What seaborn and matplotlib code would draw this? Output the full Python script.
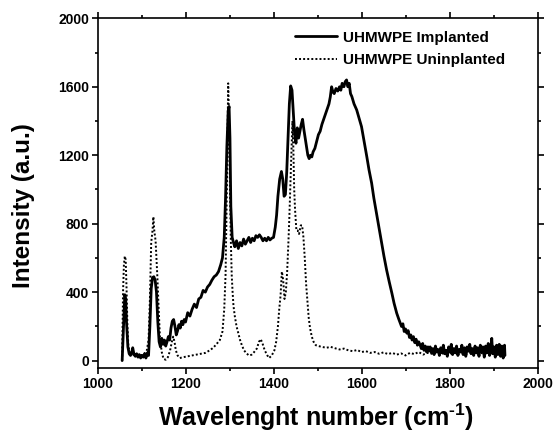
import matplotlib
matplotlib.use("Agg")
import matplotlib.pyplot as plt
from matplotlib.ticker import MultipleLocator
import pandas as pd
import seaborn as sns

# Raman spectrum of the implanted sample
impl_wn = [1056, 1059, 1062, 1064, 1066, 1069, 1072, 1075, 1078, 1080, 1083, 1086, 1089, 1092,
           1095, 1098, 1101, 1104, 1107, 1110, 1113, 1116, 1119, 1122, 1125, 1128, 1131, 1134,
           1137, 1140, 1143, 1146, 1149, 1152, 1155, 1158, 1161, 1164, 1167, 1170, 1173, 1176,
           1179, 1182, 1185, 1188, 1191, 1194, 1197, 1200, 1205, 1210, 1215, 1220, 1225, 1230,
           1235, 1240, 1245, 1250, 1255, 1260, 1265, 1270, 1275, 1280, 1284, 1288, 1291, 1294,
           1297, 1299, 1301, 1303, 1306, 1309, 1312, 1316, 1320, 1324, 1328, 1332, 1336, 1340,
           1344, 1348, 1352, 1356, 1360, 1364, 1368, 1372, 1376, 1380, 1384, 1388, 1392, 1396,
           1400, 1404, 1407, 1410, 1414, 1418, 1421, 1424, 1427, 1430, 1433, 1436, 1439, 1442,
           1445, 1448, 1451, 1454, 1457, 1460, 1463, 1466, 1469, 1472, 1475, 1478, 1481, 1484,
           1487, 1490, 1494, 1498, 1502, 1506, 1510, 1514, 1518, 1522, 1526, 1529, 1532, 1535,
           1538, 1542, 1546, 1550, 1553, 1556, 1560, 1563, 1566, 1569, 1572, 1575, 1578, 1583,
           1589, 1594, 1600, 1606, 1612, 1617, 1623, 1628, 1634, 1640, 1646, 1651, 1657, 1663,
           1669, 1674, 1680, 1685, 1691, 1694, 1697, 1700, 1703, 1706, 1709, 1712, 1715, 1718,
           1721, 1724, 1727, 1730, 1733, 1736, 1739, 1742, 1745, 1748, 1751, 1753, 1756, 1759,
           1762, 1765, 1768, 1771, 1774, 1777, 1780, 1783, 1786, 1789, 1792, 1795, 1798, 1801,
           1804, 1807, 1810, 1813, 1816, 1819, 1822, 1825, 1828, 1831, 1834, 1837, 1840, 1843,
           1846, 1849, 1852, 1855, 1858, 1861, 1864, 1867, 1870, 1873, 1876, 1879, 1882, 1885,
           1888, 1891, 1894, 1896, 1898, 1901, 1904, 1907, 1910, 1913, 1916, 1919, 1922, 1925,
           1926]
impl_int = [0, 200, 385, 360, 220, 80, 40, 30, 50, 75, 35, 25, 40, 20,
            35, 15, 30, 20, 40, 15, 45, 30, 200, 420, 485, 490, 470, 400,
            230, 110, 80, 130, 95, 120, 85, 110, 140, 120, 190, 230, 240, 200,
            150, 175, 210, 190, 230, 210, 240, 225, 280, 260, 300, 330, 310, 360,
            370, 410, 400, 430, 445, 470, 490, 500, 520, 560, 600, 720, 950, 1250,
            1460, 1485, 1300, 900, 720, 690, 665, 700, 655, 690, 670, 710, 680, 700,
            720, 690, 715, 700, 730, 720, 735, 720, 700, 715, 700, 720, 705, 715,
            720, 780, 850, 960, 1060, 1105, 1060, 960, 970, 1100, 1300, 1500, 1605, 1580,
            1450, 1320, 1270, 1360, 1300, 1340, 1380, 1410, 1350, 1300, 1250, 1200, 1180, 1200,
            1190, 1220, 1240, 1280, 1320, 1340, 1380, 1410, 1440, 1470, 1500, 1540, 1600, 1570,
            1560, 1590, 1575, 1600, 1580, 1620, 1600, 1630, 1640, 1600, 1620, 1560, 1543, 1500,
            1465, 1420, 1367, 1280, 1192, 1115, 1037, 950, 862, 775, 686, 610, 530, 460,
            394, 335, 277, 240, 199, 215, 170, 185, 160, 175, 135, 150, 120, 140,
            105, 125, 90, 110, 92, 70, 100, 60, 85, 50, 80, 55, 80, 45,
            70, 35, 85, 50, 65, 30, 75, 45, 90, 40, 60, 25, 80, 50,
            95, 35, 70, 45, 85, 30, 65, 50, 90, 35, 75, 25, 80, 55,
            95, 40, 70, 30, 85, 45, 75, 25, 90, 50, 80, 20, 85, 45,
            100, 30, 70, 130, 40, 80, 20, 90, 35, 95, 25, 85, 15, 90,
            30]

# Raman spectrum of the reference (non-implanted) sample
unimp_wn = [1056, 1058, 1060, 1062, 1064, 1066, 1068, 1070, 1073, 1078, 1085, 1095, 1105, 1112,
            1116, 1119, 1122, 1125, 1127, 1129, 1132, 1134, 1136, 1139, 1142, 1146, 1150, 1155,
            1160, 1165, 1169, 1172, 1175, 1178, 1182, 1187, 1195, 1205, 1215, 1225, 1235, 1245,
            1255, 1263, 1270, 1278, 1284, 1288, 1291, 1294, 1297, 1299, 1301, 1303, 1305, 1307,
            1309, 1312, 1316, 1320, 1324, 1328, 1333, 1338, 1344, 1350, 1356, 1362, 1367, 1371,
            1375, 1380, 1386, 1390, 1396, 1402, 1406, 1410, 1413, 1416, 1419, 1422, 1425, 1428,
            1431, 1434, 1436, 1438, 1441, 1443, 1445, 1447, 1449, 1452, 1455, 1458, 1462, 1465,
            1468, 1471, 1474, 1477, 1480, 1483, 1487, 1491, 1496, 1502, 1510, 1520, 1530, 1540,
            1550, 1560, 1570, 1580, 1590, 1600, 1610, 1620, 1630, 1640, 1650, 1660, 1670, 1680,
            1690, 1700, 1710, 1720, 1730, 1740, 1750, 1760, 1770, 1780, 1790, 1800, 1810, 1820,
            1830, 1840, 1850, 1860, 1870, 1880, 1890, 1900, 1910, 1922]
unimp_int = [0, 400, 560, 610, 590, 420, 200, 90, 50, 40, 30, 30, 35, 60,
             120, 350, 690, 760, 840, 760, 700, 600, 490, 300, 130, 50, 10, 5,
             20, 60, 110, 140, 110, 60, 30, 15, 20, 25, 30, 35, 40, 45,
             60, 75, 95, 120, 170, 300, 500, 1000, 1620, 1400, 1000, 700, 500, 400,
             320, 260, 200, 160, 120, 90, 60, 44, 30, 34, 50, 70, 110, 125,
             100, 60, 30, 15, 30, 60, 110, 200, 300, 380, 520, 470, 360, 400,
             520, 700, 840, 1000, 1250, 1400, 1250, 1000, 880, 760, 760, 740, 790, 790,
             720, 600, 450, 350, 250, 190, 140, 110, 90, 85, 80, 75, 80, 72,
             65, 70, 60, 55, 62, 50, 55, 45, 50, 40, 48, 38, 45, 35,
             42, 30, 45, 38, 50, 35, 45, 40, 50, 38, 45, 40, 48, 36,
             44, 40, 50, 38, 45, 40, 48, 40, 45, 40]

series_labels = ["UHMWPE Implanted", "UHMWPE Uninplanted"]
x_label = "Wavelenght number (cm$^{\\mathbf{\u2010 1}}$)"
y_label = "Intensity (a.u.)"

sns.set_style("ticks")
plt.rcParams["font.family"] = ["Liberation Sans", "DejaVu Sans"]
plt.rcParams["font.weight"] = "bold"
plt.rcParams["text.color"] = "black"
plt.rcParams["axes.labelcolor"] = "black"
plt.rcParams["mathtext.fontset"] = "custom"
plt.rcParams["mathtext.rm"] = "Liberation Sans:bold"
plt.rcParams["mathtext.bf"] = "Liberation Sans:bold"

df_impl = pd.DataFrame({"wn": impl_wn, "intensity": impl_int})
df_unimp = pd.DataFrame({"wn": unimp_wn, "intensity": unimp_int})

fig = plt.figure(figsize=(5.55, 4.34), dpi=100)
ax = fig.add_axes([0.1757, 0.1514, 0.7928, 0.8064])

sns.lineplot(data=df_impl, x="wn", y="intensity", ax=ax, color="black",
             linewidth=2.0, estimator=None, errorbar=None, label=series_labels[0])
sns.lineplot(data=df_unimp, x="wn", y="intensity", ax=ax, color="black",
             linewidth=1.4, linestyle=(0, (1, 1.1)), estimator=None, errorbar=None,
             label=series_labels[1])

ax.set_xlim(1000, 2000)
ax.set_ylim(-45, 2000)
ax.xaxis.set_major_locator(MultipleLocator(200))
ax.xaxis.set_minor_locator(MultipleLocator(100))
ax.yaxis.set_major_locator(MultipleLocator(400))
ax.yaxis.set_minor_locator(MultipleLocator(200))
ax.tick_params(which="both", direction="out", top=True, right=True,
               labeltop=False, labelright=False, width=1.2, colors="black")
ax.tick_params(which="major", length=4, labelsize=10, pad=2)
ax.tick_params(which="minor", length=2.5)
for lbl in ax.get_xticklabels() + ax.get_yticklabels():
    lbl.set_fontweight("bold")
for sp in ax.spines.values():
    sp.set_linewidth(1.2)
    sp.set_color("black")

ax.set_xlabel(x_label, fontsize=18, fontweight="bold", color="black")
ax.set_ylabel(y_label, fontsize=17.5, fontweight="bold", color="black")
ax.xaxis.set_label_coords(0.497, -0.096)
ax.yaxis.set_label_coords(-0.141, 0.465)

leg = ax.legend(loc="upper left", bbox_to_anchor=(0.449, 0.965), frameon=False,
                borderpad=0, borderaxespad=0, handlelength=2.75, handletextpad=0.4,
                labelspacing=0.55, prop={"size": 11, "weight": "bold"})
for t in leg.get_texts():
    t.set_color("black")

fig.savefig("out.png", dpi=100)
